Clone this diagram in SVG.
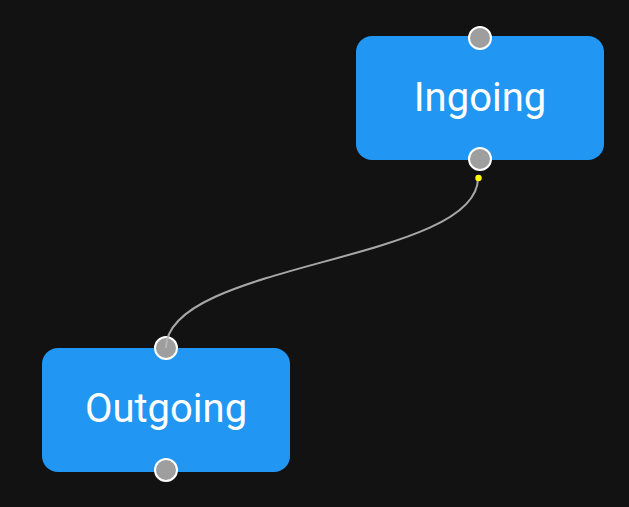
<svg xmlns="http://www.w3.org/2000/svg" width="629" height="507" viewBox="0 0 629 507">
<style>
.node rect{fill:#2196F3}
.node text{fill:#ffffff;font-family:Roboto,"Liberation Sans",sans-serif;font-size:40px;text-anchor:middle}
.handle{fill:#9E9E9E;stroke:#ffffff;stroke-width:2}
.edge{fill:none;stroke:#b8b8b8;stroke-width:2;opacity:0.9}
</style>
<rect width="629" height="507" fill="#121212"/>
<g id="ingoing" class="node">
<rect x="356" y="36" width="248" height="124" rx="16"/>
<text x="480" y="111">Ingoing</text>
<circle class="handle" cx="480" cy="38" r="11"/>
<circle class="handle" cx="480" cy="159" r="11"/>
</g>
<g id="outgoing" class="node">
<rect x="42" y="348" width="248" height="124" rx="16"/>
<text x="166" y="422">Outgoing</text>
<circle class="handle" cx="166" cy="348" r="11"/>
<circle class="handle" cx="166" cy="470" r="11"/>
</g>
<g id="connectors">
<path class="edge" d="M478,178 C478,262 166,262 166,348"/>
<circle cx="478.5" cy="178" r="3.2" fill="#ffff00"/>
</g>
</svg>
